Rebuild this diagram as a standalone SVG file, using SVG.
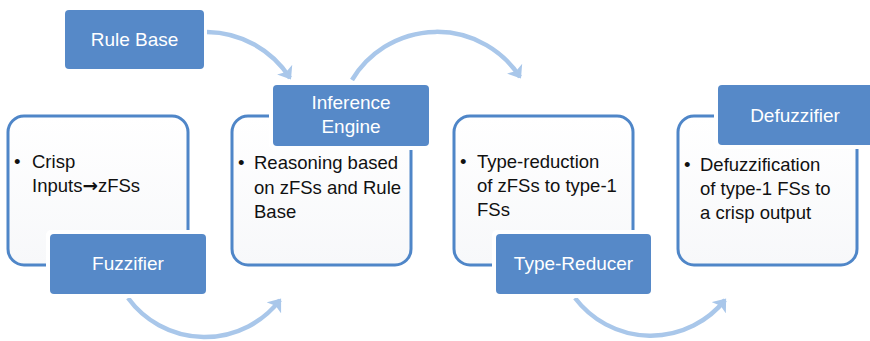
<svg xmlns="http://www.w3.org/2000/svg" width="870" height="341" viewBox="0 0 870 341">
<defs>
<marker id="ah" markerWidth="4" markerHeight="4" refX="2.2" refY="2" orient="auto" markerUnits="strokeWidth">
<path d="M0,0 L2.6,2 L0,4 L0.6,2 Z" fill="#a9c7ea"/>
</marker>
<linearGradient id="cg" x1="0" y1="0" x2="0" y2="1">
<stop offset="0" stop-color="#ffffff"/>
<stop offset="1" stop-color="#f7f8fa"/>
</linearGradient>
</defs>
<style>
.cont{fill:url(#cg);stroke:#4f86c8;stroke-width:3}
.halo{fill:#ffffff}
.title{fill:#5689c8}
.tt{font-family:"Liberation Sans",Arial,sans-serif;font-size:19px;fill:#ffffff;text-anchor:middle}
.bt{font-family:"Liberation Sans",Arial,sans-serif;font-size:18.5px;fill:#111111}
.arr{font-family:"DejaVu Sans",sans-serif;font-weight:bold}
.conn{fill:none;stroke:#a9c7ea;stroke-width:4.5;marker-end:url(#ah)}
</style>
<g id="connectors">
<path class="conn" d="M207,32 A100,100 0 0 1 290,78"/>
<path class="conn" d="M352,80 A99,99 0 0 1 520,77"/>
<path class="conn" d="M128,298 A95,95 0 0 0 280,300"/>
<path class="conn" d="M575,298 A95,95 0 0 0 725,300"/>
</g>
<g id="rule-base">
<rect class="title" x="65" y="10" width="139" height="59" rx="4"/>
<text class="tt" x="134.5" y="46">Rule Base</text>
</g>
<g id="fuzzifier">
<rect class="cont" x="8" y="116" width="180" height="149" rx="16"/>
<text class="bt" x="14" y="168">•</text>
<text class="bt" x="32" y="168">Crisp</text>
<text class="bt" x="32" y="192">Inputs<tspan class="arr">→</tspan>zFSs</text>
<rect class="halo" x="46" y="230" width="164" height="68" rx="5"/>
<rect class="title" x="50" y="234" width="156" height="60" rx="4"/>
<text class="tt" x="128" y="270">Fuzzifier</text>
</g>
<g id="inference-engine">
<rect class="cont" x="232" y="116" width="179" height="149" rx="16"/>
<text class="bt" x="238" y="169">•</text>
<text class="bt" x="254" y="169">Reasoning based</text>
<text class="bt" x="254" y="194">on zFSs and Rule</text>
<text class="bt" x="254" y="218">Base</text>
<rect class="halo" x="269" y="81" width="164" height="69" rx="5"/>
<rect class="title" x="273" y="85" width="156" height="61" rx="4"/>
<text class="tt" x="351" y="109">Inference</text>
<text class="tt" x="351" y="133">Engine</text>
</g>
<g id="type-reducer">
<rect class="cont" x="454" y="116" width="179" height="149" rx="16"/>
<text class="bt" x="460" y="168">•</text>
<text class="bt" x="477" y="168">Type-reduction</text>
<text class="bt" x="477" y="192">of zFSs to type-1</text>
<text class="bt" x="477" y="216">FSs</text>
<rect class="halo" x="492" y="230" width="163" height="68" rx="5"/>
<rect class="title" x="496" y="234" width="155" height="60" rx="4"/>
<text class="tt" x="573.5" y="270">Type-Reducer</text>
</g>
<g id="defuzzifier">
<rect class="cont" x="678" y="116" width="179" height="149" rx="16"/>
<text class="bt" x="684" y="171">•</text>
<text class="bt" x="700" y="171">Defuzzification</text>
<text class="bt" x="700" y="195">of type-1 FSs to</text>
<text class="bt" x="700" y="219">a crisp output</text>
<rect class="halo" x="714" y="81" width="160" height="68" rx="5"/>
<rect class="title" x="718" y="85" width="156" height="60" rx="4"/>
<text class="tt" x="795" y="122">Defuzzifier</text>
</g>
</svg>
